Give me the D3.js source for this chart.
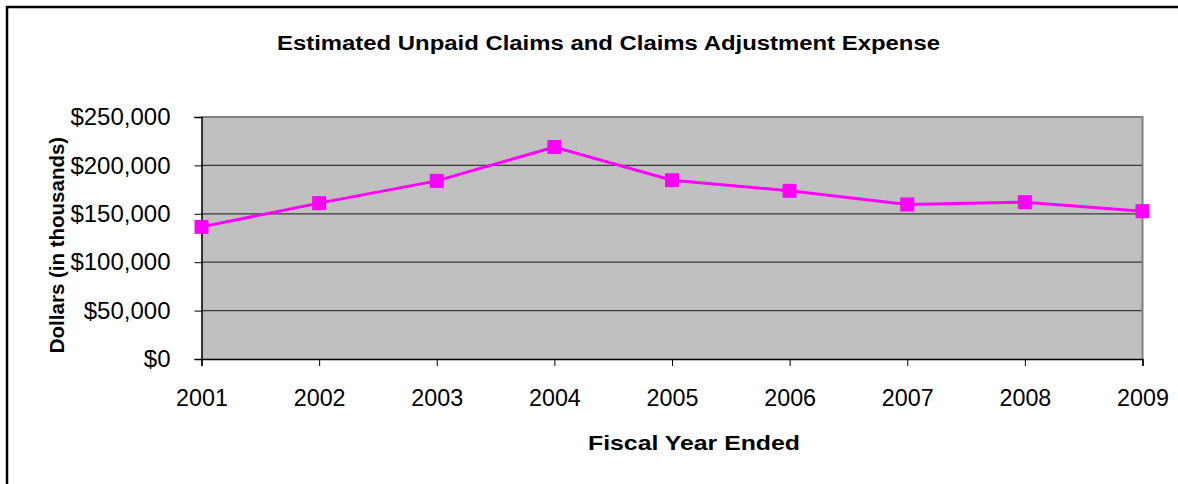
<!DOCTYPE html>
<html>
<head>
<meta charset="utf-8">
<script src="https://cdn.jsdelivr.net/npm/d3@7"></script>
<style>
  html, body { margin: 0; padding: 0; background: #fff; overflow: hidden; }
  svg { display: block; font-family: "Liberation Sans", Arial, sans-serif; }
</style>
</head>
<body>
<svg id="chart" width="1178" height="484"></svg>
<script>
const years = ["2001","2002","2003","2004","2005","2006","2007","2008","2009"];
const values = [136500, 161000, 184000, 219000, 184700, 173700, 159600, 162000, 152700];
const yTicks = [0, 50000, 100000, 150000, 200000, 250000];
const titleText = "Estimated Unpaid Claims and Claims Adjustment Expense";
const xTitleText = "Fiscal Year Ended";
const yTitleText = "Dollars (in thousands)";

const svg = d3.select("#chart");
const plot = { left: 201.5, right: 1142.5, top: 117, bottom: 359 };

// outer border (extends past viewport on right/bottom)
svg.append("rect")
  .attr("x", 7).attr("y", 7).attr("width", 1300).attr("height", 600)
  .attr("fill", "#fff").attr("stroke", "#000").attr("stroke-width", 2.5);

const x = d3.scalePoint().domain(years).range([plot.left, plot.right]);
const y = d3.scaleLinear().domain([0, 250000]).range([plot.bottom, plot.top]);

// plot background
svg.append("rect")
  .attr("x", plot.left).attr("y", plot.top)
  .attr("width", plot.right - plot.left).attr("height", plot.bottom - plot.top)
  .attr("fill", "#c0c0c0");

// gridlines
svg.append("g").selectAll("line").data(yTicks.filter(d => d > 0 && d < 250000)).join("line")
  .attr("x1", plot.left).attr("x2", plot.right)
  .attr("y1", d => y(d)).attr("y2", d => y(d))
  .attr("stroke", "#3a3a3a").attr("stroke-width", 1.2);

// top & right plot border
svg.append("path")
  .attr("d", `M${plot.left},${plot.top}H${plot.right}V${plot.bottom}`)
  .attr("fill", "none").attr("stroke", "#808080").attr("stroke-width", 2);

// y axis
const yAxis = d3.axisLeft(y).tickValues(yTicks).tickSize(7).tickPadding(24)
  .tickFormat(d => "$" + d3.format(",")(d));
const gy = svg.append("g").attr("transform", `translate(${plot.left},0)`).call(yAxis);
gy.select(".domain").attr("stroke", "#000").attr("stroke-width", 1.5);
gy.selectAll(".tick line").attr("stroke", "#000").attr("stroke-width", 1);
gy.selectAll("text").attr("font-size", 24).attr("fill", "#000")
  .attr("font-family", "Liberation Sans, Arial, sans-serif");

// x axis
const xAxis = d3.axisBottom(x).tickSize(7).tickPadding(23.5);
const gx = svg.append("g").attr("transform", `translate(0,${plot.bottom})`).call(xAxis);
gx.select(".domain").attr("stroke", "#000").attr("stroke-width", 1.5);
gx.selectAll(".tick line").attr("stroke", "#000").attr("stroke-width", 1);
gx.selectAll("text").attr("font-size", 23.3).attr("fill", "#000")
  .attr("font-family", "Liberation Sans, Arial, sans-serif");

// line
const line = d3.line().x((d, i) => x(years[i])).y(d => y(d));
svg.append("path").datum(values)
  .attr("d", line).attr("fill", "none")
  .attr("stroke", "#ff00ff").attr("stroke-width", 3);

// markers
const ms = 14;
svg.append("g").selectAll("rect").data(values).join("rect")
  .attr("x", (d, i) => x(years[i]) - ms / 2)
  .attr("y", d => y(d) - ms / 2)
  .attr("width", ms).attr("height", ms)
  .attr("fill", "#ff00ff");

// titles
svg.append("text")
  .attr("x", 608.5).attr("y", 50)
  .attr("text-anchor", "middle")
  .attr("font-size", 20).attr("font-weight", "bold")
  .attr("textLength", 663).attr("lengthAdjust", "spacingAndGlyphs")
  .text(titleText);

svg.append("text")
  .attr("x", 694).attr("y", 450)
  .attr("text-anchor", "middle")
  .attr("font-size", 21).attr("font-weight", "bold")
  .attr("textLength", 212).attr("lengthAdjust", "spacingAndGlyphs")
  .text(xTitleText);

svg.append("text")
  .attr("transform", "translate(64,245) rotate(-90)")
  .attr("text-anchor", "middle")
  .attr("font-size", 20.5).attr("font-weight", "bold")
  .text(yTitleText);
</script>
</body>
</html>
